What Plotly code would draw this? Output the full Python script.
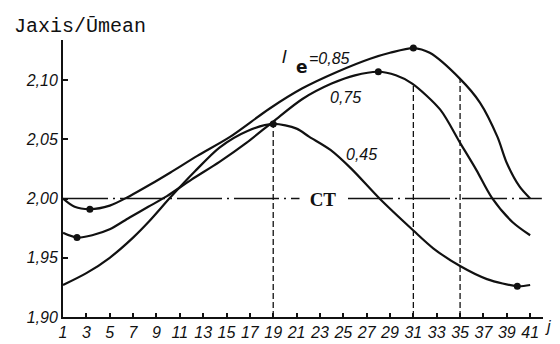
import plotly.graph_objects as go

# ---- data ----
j_085 = [1, 2, 3.3, 5, 6.7, 8.5, 10.2, 12.5, 15.3, 18.7, 21.5, 24.5, 27.3, 29, 31, 32.4, 35, 36.7, 38.2, 39.0, 40.1, 41]
v_085 = [2.000, 1.993, 1.991, 1.994, 2.002, 2.012, 2.022, 2.036, 2.052, 2.076, 2.093, 2.107, 2.118, 2.123, 2.127, 2.123, 2.101, 2.081, 2.052, 2.030, 2.010, 2.000]

j_075 = [1, 2.2, 3.5, 5, 6.7, 8.3, 9.9, 12, 14.4, 16.7, 19, 21.5, 24, 26, 28, 29.5, 30.9, 33.3, 35, 36.4, 37.7, 39.5, 41]
v_075 = [1.971, 1.967, 1.969, 1.974, 1.984, 1.993, 2.002, 2.016, 2.031, 2.047, 2.065, 2.084, 2.097, 2.104, 2.107, 2.104, 2.097, 2.075, 2.047, 2.024, 2.001, 1.980, 1.969]

j_045 = [1, 3, 5, 7, 8.4, 10.2, 12.3, 14.4, 16.8, 19, 21, 22.1, 23.9, 25.7, 28.1, 31, 32.7, 35, 37.3, 39.9, 41]
v_045 = [1.927, 1.937, 1.950, 1.967, 1.981, 2.001, 2.023, 2.043, 2.057, 2.063, 2.059, 2.052, 2.041, 2.025, 2.000, 1.973, 1.958, 1.943, 1.932, 1.926, 1.927]

dot_j = [3.3, 31, 2.2, 28, 19, 39.9]
dot_v = [1.991, 2.127, 1.967, 2.107, 2.063, 1.926]

drop_j = [19, 31, 35]
drop_top = [2.063, 2.097, 2.101]

ct_level = 2.00
ct_span = [1, 42.0]

x_ticks = list(range(1, 42, 2))
x_ticktext = [str(v) for v in x_ticks]
y_ticks = [1.90, 1.95, 2.00, 2.05, 2.10]
y_ticktext = ["1,90", "1,95", "2,00", "2,05", "2,10"]

curve_labels = ["=0,85", "0,75", "0,45"]

# ---- figure ----
SANS = "Liberation Sans, Arial, sans-serif"
INK = "#111111"

fig = go.Figure()

for jj, vv in [(j_085, v_085), (j_075, v_075), (j_045, v_045)]:
    fig.add_trace(go.Scatter(x=jj, y=vv, mode="lines", showlegend=False,
                             line=dict(color=INK, width=2.2, shape="spline", smoothing=0.8)))

fig.add_trace(go.Scatter(x=ct_span, y=[ct_level, ct_level], mode="lines", showlegend=False,
                         line=dict(color=INK, width=1.4, dash="45px,5px,2px,5px")))

for xj, top in zip(drop_j, drop_top):
    fig.add_trace(go.Scatter(x=[xj, xj], y=[y_ticks[0], top], mode="lines", showlegend=False,
                             line=dict(color=INK, width=1.3, dash="6px,3px")))

fig.add_trace(go.Scatter(x=dot_j, y=dot_v, mode="markers", showlegend=False,
                         marker=dict(color=INK, size=7)))

lab_font = dict(family=SANS, size=16, color=INK, style="italic")
annos = []
annos.append(dict(x=23.26, y=ct_level, xref="x", yref="y", text="CT", showarrow=False,
                  xanchor="center", yanchor="middle",
                  font=dict(family="Liberation Serif, serif", size=19, color=INK, weight="bold"),
                  bgcolor="white", width=44, height=18))
annos.append(dict(x=19.95, y=2.120, xref="x", yref="y", text="l", showarrow=False,
                  xanchor="center", yanchor="middle",
                  font=dict(family=SANS, size=19, color=INK, style="italic")))
annos.append(dict(x=21.5, y=2.111, xref="x", yref="y", text="e", showarrow=False,
                  xanchor="center", yanchor="middle",
                  font=dict(family="DejaVu Sans, sans-serif", size=17, color=INK, weight="bold")))
annos.append(dict(x=23.8, y=2.118, xref="x", yref="y", text=curve_labels[0], showarrow=False,
                  xanchor="center", yanchor="middle", font=lab_font))
annos.append(dict(x=25.2, y=2.085, xref="x", yref="y", text=curve_labels[1], showarrow=False,
                  xanchor="center", yanchor="middle", font=lab_font))
annos.append(dict(x=26.6, y=2.037, xref="x", yref="y", text=curve_labels[2], showarrow=False,
                  xanchor="center", yanchor="middle", font=lab_font))
annos.append(dict(x=-0.106, y=1.047, xref="paper", yref="paper", xanchor="left", yanchor="middle",
                  text="Jaxis/Ūmean", showarrow=False,
                  font=dict(family="Liberation Mono, Courier New, monospace", size=20, color=INK)))
annos.append(dict(x=1.0104, y=-0.0325, xref="paper", yref="paper", text="j", showarrow=False,
                  xanchor="center", yanchor="middle", font=lab_font))

axis_common = dict(showgrid=False, zeroline=False, showline=True, automargin=False,
                   linewidth=2, linecolor=INK, ticks="inside", tickwidth=1.5, tickcolor=INK,
                   tickfont=lab_font)

fig.update_layout(
    width=560, height=344,
    margin=dict(l=63, r=17, t=40, b=27),
    paper_bgcolor="white", plot_bgcolor="white",
    annotations=annos,
    xaxis=dict(range=[1, 42.1], ticklen=4, tickvals=x_ticks, ticktext=x_ticktext, **axis_common),
    yaxis=dict(range=[1.90, 2.1338], ticklen=5, tickvals=y_ticks, ticktext=y_ticktext, **axis_common),
)

fig.write_html("out.html")
